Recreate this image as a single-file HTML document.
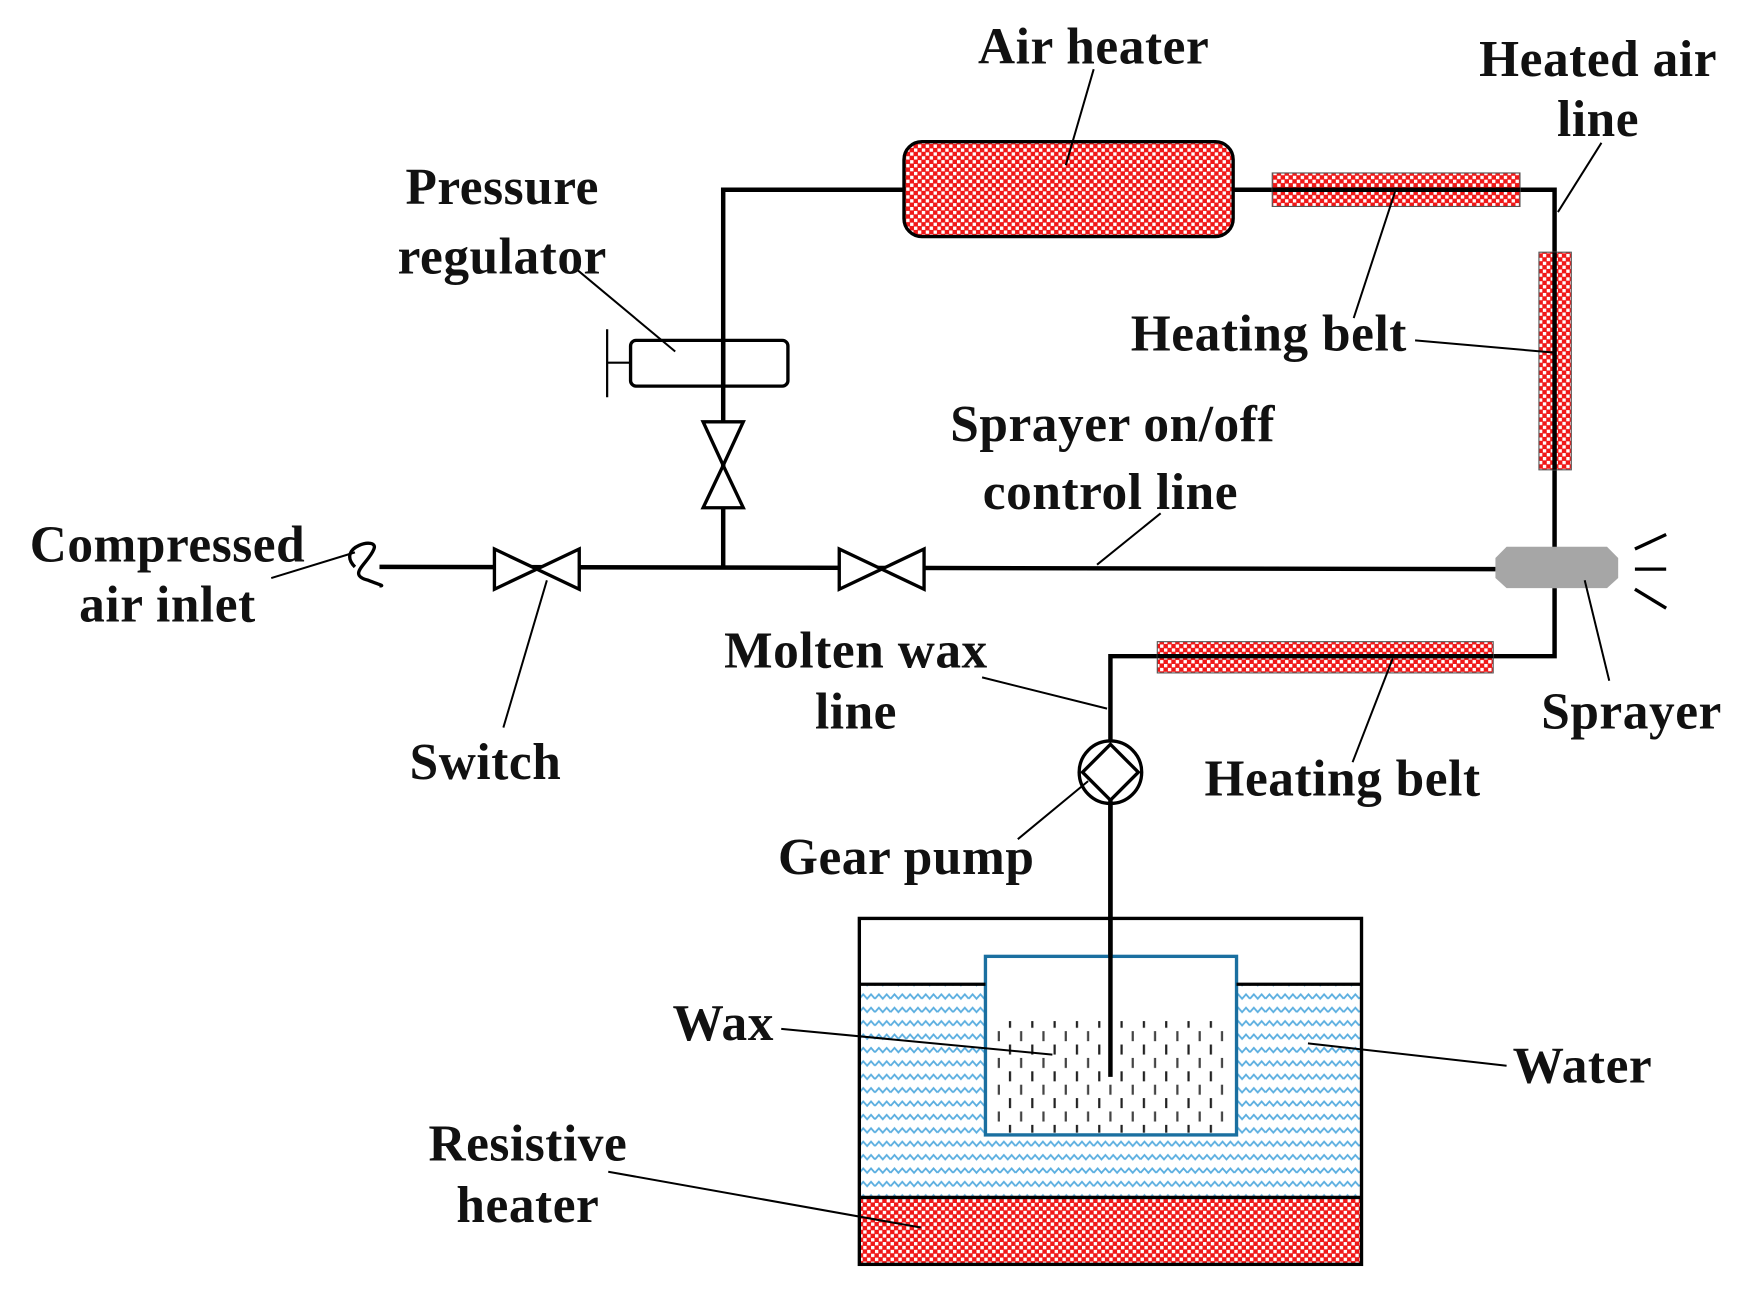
<!DOCTYPE html>
<html><head><meta charset="utf-8"><style>
html,body{margin:0;padding:0;background:#fff;}
svg{display:block;}
text{font-family:"Liberation Serif",serif;font-weight:bold;font-size:46px;fill:#111;text-anchor:middle;letter-spacing:0.5px;}
</style></head><body>
<svg width="1741" height="1309" viewBox="0 0 1560 1173" xmlns="http://www.w3.org/2000/svg">
<defs>
<pattern id="chk" width="7" height="7" patternUnits="userSpaceOnUse">
<rect width="7" height="7" fill="#f01818"/>
<rect x="0" y="0" width="3" height="3" fill="#fff"/>
<rect x="3.5" y="3.5" width="3" height="3" fill="#fff"/>
</pattern>
<pattern id="wat" width="14" height="12" patternUnits="userSpaceOnUse">
<rect width="14" height="12" fill="#fff"/>
<polyline points="0,7 3.5,3 7,7 10.5,3 14,7" fill="none" stroke="#5aaee0" stroke-width="1.6"/>
</pattern>
<pattern id="wax" width="20" height="24" patternUnits="userSpaceOnUse">
<rect x="4" y="0" width="2" height="9" fill="#222"/>
<rect x="14" y="12" width="2" height="9" fill="#444"/>
</pattern>
</defs>
<g stroke="#000" stroke-width="4" fill="none">
<polyline points="648,508 648,170 810,170"/>
<polyline points="1105,170 1393,170 1393,492"/>
<line x1="340" y1="508" x2="1340" y2="510"/>
<polyline points="1393,527 1393,588 995,588 995,965"/>
</g>
<rect x="810" y="127" width="295" height="85" rx="16" fill="url(#chk)" stroke="#000" stroke-width="3"/>
<rect x="1140" y="155" width="222" height="30" fill="url(#chk)" stroke="#555" stroke-width="1"/>
<line x1="1140" y1="170" x2="1362" y2="170" stroke="#000" stroke-width="4"/>
<rect x="1379" y="226" width="29" height="195" fill="url(#chk)" stroke="#555" stroke-width="1"/>
<line x1="1393" y1="226" x2="1393" y2="421" stroke="#000" stroke-width="4"/>
<rect x="1037" y="575" width="301" height="28" fill="url(#chk)" stroke="#555" stroke-width="1"/>
<line x1="1037" y1="588" x2="1338" y2="588" stroke="#000" stroke-width="4"/>
<polygon points="1350,490 1440,490 1450,500 1450,518 1440,527 1350,527 1340,518 1340,500" fill="#a6a6a6"/>
<g stroke="#000" stroke-width="3">
<line x1="1465" y1="492" x2="1493" y2="479"/>
<line x1="1465" y1="510" x2="1493" y2="510"/>
<line x1="1465" y1="528" x2="1493" y2="545"/>
</g>
<path d="M318,508 C300,490 340,480 335,492 C330,505 310,515 330,520 C340,524 345,525 340,525" fill="none" stroke="#000" stroke-width="3"/>
<g fill="#fff" stroke="#000" stroke-width="3">
<polygon points="443,492 481,510 443,528"/><polygon points="519,492 481,510 519,528"/>
<polygon points="752,492 790,510 752,528"/><polygon points="828,492 790,510 828,528"/>
<polygon points="630,378 666,378 648,417"/><polygon points="630,455 666,455 648,417"/>
</g>
<rect x="565" y="305" width="141" height="41" rx="5" fill="none" stroke="#000" stroke-width="3"/>
<line x1="648" y1="305" x2="648" y2="346" stroke="#000" stroke-width="4"/>
<line x1="544" y1="325" x2="565" y2="325" stroke="#000" stroke-width="2"/>
<line x1="544" y1="295" x2="544" y2="356" stroke="#000" stroke-width="2"/>
<circle cx="995" cy="692" r="28" fill="#fff" stroke="#000" stroke-width="3"/>
<polygon points="995,667 1020,692 995,717 970,692" fill="none" stroke="#000" stroke-width="3"/>
<rect x="770" y="882" width="450" height="191" fill="url(#wat)"/>
<rect x="770" y="1073" width="450" height="60" fill="url(#chk)"/>
<rect x="883" y="857" width="225" height="160" fill="#fff" stroke="#1a6fa0" stroke-width="3"/>
<rect x="888" y="915" width="215" height="100" fill="url(#wax)"/>
<line x1="995" y1="717" x2="995" y2="965" stroke="#000" stroke-width="4"/>
<g stroke="#000" stroke-width="3" fill="none">
<rect x="770" y="823" width="450" height="310"/>
<line x1="770" y1="882" x2="883" y2="882"/><line x1="1108" y1="882" x2="1220" y2="882"/>
<line x1="770" y1="1073" x2="1220" y2="1073"/>
</g>
<g stroke="#000" stroke-width="1.8">
<line x1="980" y1="62" x2="955" y2="148"/>
<line x1="1435" y1="128" x2="1396" y2="190"/>
<line x1="515" y1="240" x2="605" y2="315"/>
<line x1="1268" y1="305" x2="1393" y2="316"/>
<line x1="1213" y1="285" x2="1250" y2="172"/>
<line x1="1040" y1="460" x2="983" y2="506"/>
<line x1="243" y1="518" x2="318" y2="495"/>
<line x1="451" y1="652" x2="490" y2="520"/>
<line x1="880" y1="607" x2="992" y2="635"/>
<line x1="1442" y1="610" x2="1420" y2="520"/>
<line x1="1212" y1="683" x2="1248" y2="590"/>
<line x1="912" y1="752" x2="975" y2="700"/>
<line x1="700" y1="922" x2="943" y2="945"/>
<line x1="1350" y1="955" x2="1172" y2="935"/>
<line x1="545" y1="1050" x2="825" y2="1100"/>
</g>
<text x="980" y="57">Air heater</text>
<text x="1432" y="68">Heated air</text>
<text x="1432" y="122">line</text>
<text x="450" y="183">Pressure</text>
<text x="450" y="245">regulator</text>
<text x="1137" y="314">Heating belt</text>
<text x="997" y="395">Sprayer on/off</text>
<text x="995" y="456">control line</text>
<text x="150" y="503">Compressed</text>
<text x="150" y="557">air inlet</text>
<text x="435" y="698">Switch</text>
<text x="767" y="598">Molten wax</text>
<text x="767" y="653">line</text>
<text x="1462" y="653">Sprayer</text>
<text x="1203" y="713">Heating belt</text>
<text x="812" y="783">Gear pump</text>
<text x="648" y="932">Wax</text>
<text x="1418" y="970">Water</text>
<text x="473" y="1040">Resistive</text>
<text x="473" y="1095">heater</text>
</svg>
</body></html>
